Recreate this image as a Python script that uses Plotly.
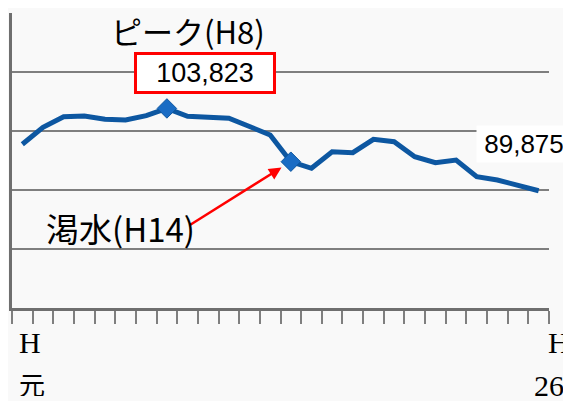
import plotly.graph_objects as go

years = ["H元"] + [f"H{i}" for i in range(2, 27)]
values = [97746, 100627, 102424, 102543, 101983, 101865, 102594, 103823,
          102492, 102322, 102153, 100763, 99322, 94797, 93678, 96491,
          96322, 98593, 98186, 95644, 94627, 95085, 92254, 91695, 90847, 89875]
marker_years = ["H8", "H14"]
peak_label = "103,823"
last_label = "89,875"

GRID = "#7f7f7f"
LINE = "#0d57a1"

marker_vals = [values[years.index(y)] for y in marker_years]

fig = go.Figure()
fig.add_trace(go.Scatter(x=years, y=values, mode="lines",
                         line=dict(color=LINE, width=5), hoverinfo="skip"))
fig.add_trace(go.Scatter(x=marker_years, y=marker_vals, mode="markers",
                         marker=dict(symbol="diamond", size=15, color="#1a6cc4",
                                     line=dict(color="#0d57a1", width=1))))

ann = []
# peak value box
ann.append(dict(x="H8", y=values[7], xref="x", yref="y", text=peak_label,
                showarrow=False, xshift=38, yshift=35,
                font=dict(family="Liberation Sans, Arial", size=27, color="#000"),
                bgcolor="white", bordercolor="#ff0000", borderwidth=3,
                width=136, height=36, borderpad=0))
ann.append(dict(x="H8", y=values[7], xref="x", yref="y", text="ピーク(H8)",
                showarrow=False, xshift=21, yshift=78,
                font=dict(family="Noto Sans CJK JP", size=31, color="#000")))
# last value
ann.append(dict(x="H26", y=values[-1], xref="x", yref="y", text=last_label,
                showarrow=False, xshift=-15, yshift=47,
                font=dict(family="Liberation Sans, Arial", size=26, color="#000"),
                bgcolor="white", width=92, height=34))
# drought label + arrow
ann.append(dict(x="H14", y=values[13], xref="x", yref="y", text="",
                showarrow=True, arrowhead=2, arrowsize=1, arrowwidth=2.5,
                arrowcolor="#ff0000", ax=-102, ay=64, standoff=11))
ann.append(dict(x="H14", y=values[13], xref="x", yref="y", text="渇水(H14)",
                showarrow=False, xshift=-170, yshift=-66,
                font=dict(family="Noto Sans CJK JP", size=33, color="#000")))
# x axis end labels
serif = dict(family="Liberation Serif, Noto Sans CJK JP", size=30, color="#000")
ann.append(dict(x=years[0], y=0, xref="x", yref="paper", text="H", showarrow=False,
                xanchor="left", yanchor="middle", xshift=-5, yshift=-34, font=serif))
ann.append(dict(x=years[0], y=0, xref="x", yref="paper", text="元", showarrow=False,
                xanchor="left", yanchor="middle", xshift=-5, yshift=-75, height=26,
                font=dict(family="Noto Sans CJK JP", size=26, color="#000")))
ann.append(dict(x=years[-1], y=0, xref="x", yref="paper", text="H", showarrow=False,
                xanchor="left", yanchor="middle", xshift=7, yshift=-34, font=serif))
ann.append(dict(x=years[-1], y=0, xref="x", yref="paper", text="26", showarrow=False,
                xanchor="right", yanchor="middle", xshift=27, yshift=-77, height=26,
                font=serif))

# page body has an 8px margin, so the figure is sized to fill the rest
fig.update_layout(
    width=563, height=393,
    margin=dict(l=4, r=22, t=5, b=93),
    paper_bgcolor="#f9f9f9", plot_bgcolor="#f9f9f9",
    showlegend=False,
    annotations=ann,
    xaxis=dict(type="category", range=[-0.5, 25.5], showgrid=False,
               showticklabels=False, ticks="outside", tickson="boundaries",
               ticklen=13, tickwidth=2, tickcolor=GRID,
               showline=True, linecolor="#6f6f6f", linewidth=3, zeroline=False),
    yaxis=dict(range=[70000, 120000], dtick=10000, tick0=70000,
               showgrid=True, gridcolor=GRID, gridwidth=2,
               showticklabels=False, ticks="", zeroline=False,
               showline=True, linecolor="#6f6f6f", linewidth=3),
)

fig.write_html("out.html")
